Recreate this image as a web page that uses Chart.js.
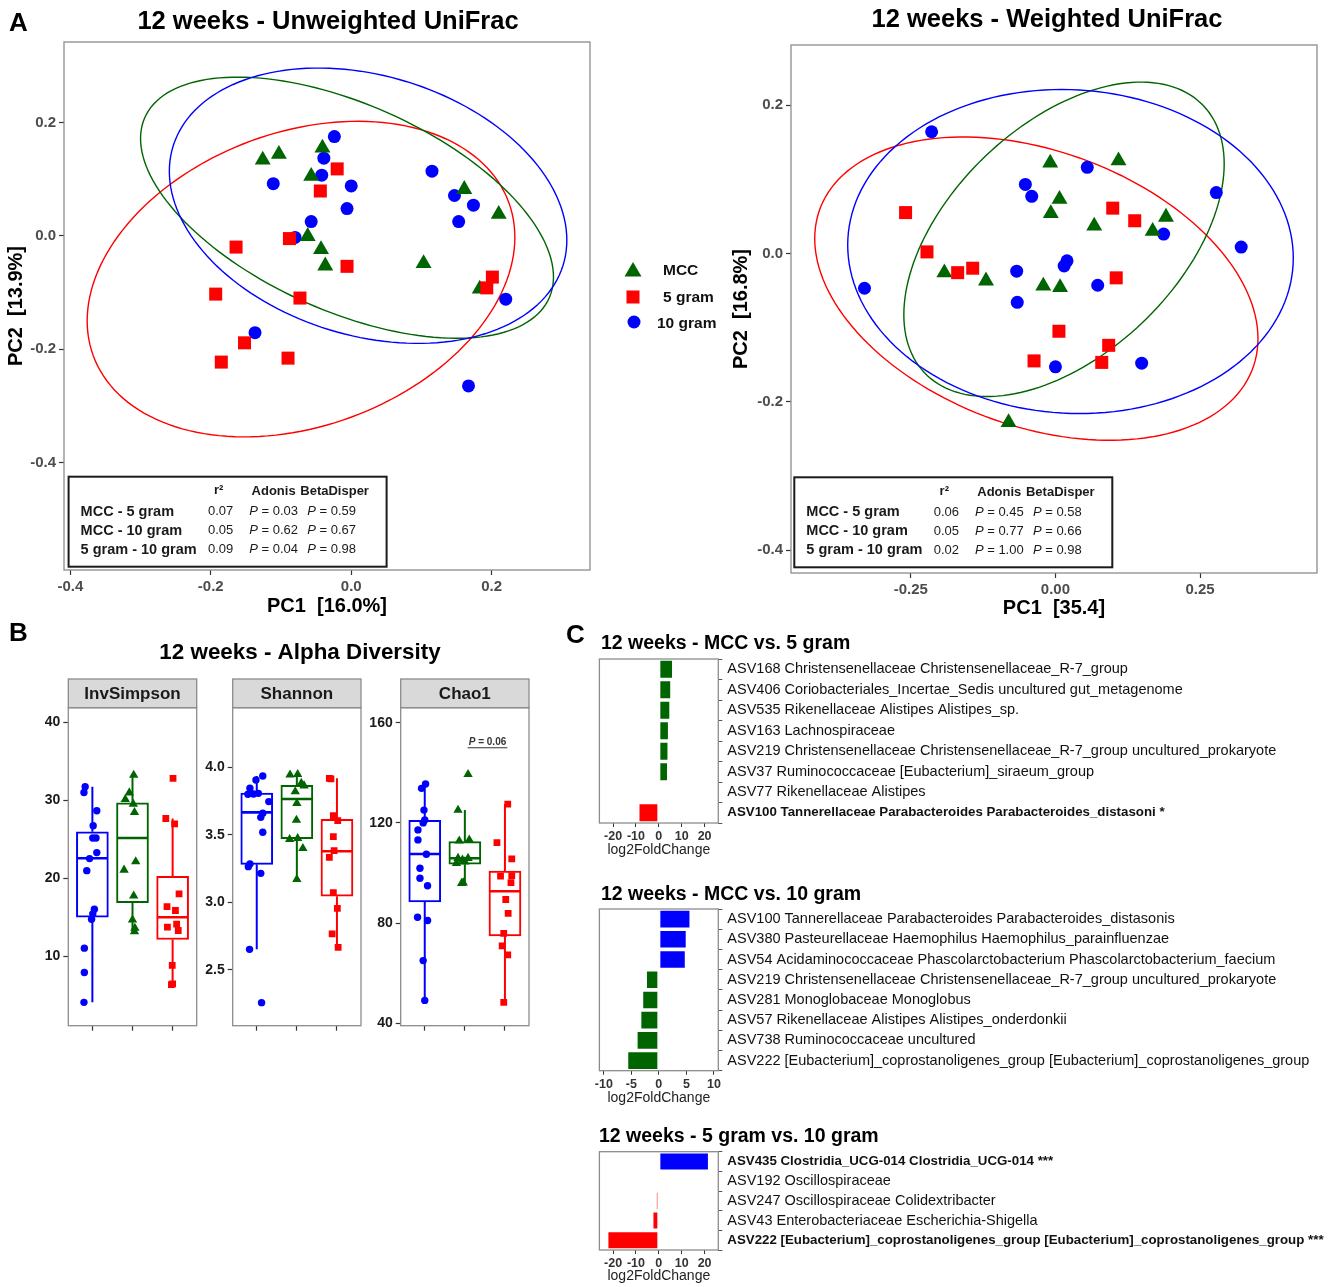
<!DOCTYPE html>
<html>
<head>
<meta charset="utf-8">
<script src="https://cdn.jsdelivr.net/npm/chart.js@4.4.1/dist/chart.umd.min.js"></script>
<style>
  body { margin: 0; background: #fff; }
  #wrap { position: relative; width: 1339px; height: 1287px; overflow: hidden; background: #fff; }
  canvas { position: absolute; }
</style>
</head>
<body>
<div id="wrap">
  <canvas id="a1" width="727" height="625" style="left:0px;top:0px"></canvas>
  <canvas id="a2" width="612" height="625" style="left:727px;top:0px"></canvas>
  <canvas id="b1" width="570" height="440" style="left:0px;top:610px"></canvas>
  <canvas id="b2" width="570" height="440" style="left:0px;top:610px"></canvas>
  <canvas id="b3" width="570" height="440" style="left:0px;top:610px"></canvas>
  <canvas id="c1" width="779" height="250" style="left:560px;top:610px"></canvas>
  <canvas id="c2" width="779" height="230" style="left:560px;top:880px"></canvas>
  <canvas id="c3" width="779" height="167" style="left:560px;top:1120px"></canvas>
</div>
<script>
Chart.defaults.font.family = '"Liberation Sans", Arial, Helvetica, sans-serif';
Chart.defaults.color = '#333';

const GREEN = '#006400', RED = '#FF0000', BLUE = '#0000FF';

// ---- A: PCoA, 12 weeks, unweighted UniFrac
const uwMccX = [-0.126, -0.103, -0.041, -0.057, -0.062, -0.043, -0.037, 0.103, 0.161, 0.210, 0.183];
const uwMccY = [0.134, 0.144, 0.155, 0.105, -0.001, -0.024, -0.053, -0.049, 0.082, 0.038, -0.094];
const uw5gX = [-0.020, -0.044, -0.088, -0.164, -0.006, 0.201, 0.193, -0.193, -0.073, -0.152, -0.185, -0.090];
const uw5gY = [0.118, 0.079, -0.005, -0.020, -0.054, -0.073, -0.092, -0.103, -0.110, -0.189, -0.223, -0.216];
const uw10gX = [-0.024, -0.039, -0.042, -0.111, 0.000, -0.006, -0.057, -0.080, 0.115, 0.147, 0.174, 0.153, 0.220, -0.137, 0.167];
const uw10gY = [0.175, 0.137, 0.107, 0.092, 0.088, 0.048, 0.025, -0.003, 0.114, 0.071, 0.054, 0.025, -0.112, -0.171, -0.265];
// ellipse: centre x, centre y, half width, half height, tilt (cos of phase)
const uwEllMcc = [-0.006, 0.0495, 0.294, 0.2305, -0.53];
const uwEll5g = [-0.0715, -0.0765, 0.3045, 0.2785, 0.265];
const uwEll10g = [0.024, 0.053, 0.283, 0.243, -0.25];

// ---- A: weighted UniFrac
const wMccX = [-0.009, 0.109, 0.007, -0.008, 0.067, 0.191, 0.168, -0.192, -0.120, -0.021, 0.008, -0.081];
const wMccY = [0.122, 0.125, 0.073, 0.054, 0.037, 0.049, 0.030, -0.026, -0.037, -0.044, -0.046, -0.228];
const w5gX = [-0.259, 0.099, 0.137, -0.222, -0.169, -0.143, 0.105, 0.006, 0.092, -0.037, 0.080];
const w5gY = [0.055, 0.061, 0.044, 0.002, -0.026, -0.020, -0.033, -0.105, -0.124, -0.145, -0.147];
const w10gX = [-0.214, 0.055, -0.052, -0.041, 0.278, 0.187, 0.321, 0.020, 0.015, -0.067, 0.073, -0.330, -0.066, 0.000, 0.149];
const w10gY = [0.164, 0.116, 0.093, 0.077, 0.082, 0.026, 0.0085, -0.010, -0.017, -0.024, -0.043, -0.047, -0.066, -0.153, -0.148];
const wEllMcc = [0.0148, 0.019, 0.2768, 0.212, 0.48];
const wEll5g = [-0.033, -0.0475, 0.383, 0.2045, -0.33];
const wEll10g = [0.026, 0.0025, 0.385, 0.2185, -0.04];

// ---- A: statistics tables
const pairNames = ['MCC - 5 gram', 'MCC - 10 gram', '5 gram - 10 gram'];
const uwR2 = ['0.07', '0.05', '0.09'];
const uwAdonis = ['0.03', '0.62', '0.04'];
const uwBeta = ['0.59', '0.67', '0.98'];
const wR2 = ['0.06', '0.05', '0.02'];
const wAdonis = ['0.45', '0.77', '1.00'];
const wBeta = ['0.58', '0.66', '0.98'];

// ---- B: alpha diversity (x: 1 = 10 gram, 2 = MCC, 3 = 5 gram)
// box stats: lower whisker, q1, median, q3, upper whisker
const inv10gBox = [4.14, 15.05, 22.6, 26.0, 31.77];
const invMccBox = [13.2, 16.9, 25.2, 29.7, 33.26];
const inv5gBox = [6.4, 12.2, 15.05, 20.3, 27.7];
const inv10g = [31.77, 31.04, 28.70, 26.78, 25.20, 25.20, 23.33, 22.56, 21.02, 16.08, 15.48, 14.80, 11.09, 7.97, 4.14];
const inv10gJit = [-0.18, -0.21, 0.11, 0.02, 0.01, 0.09, 0.11, -0.07, -0.14, 0.05, 0.01, -0.02, -0.20, -0.20, -0.21];
const invMcc = [33.26, 31.0, 30.15, 29.55, 28.49, 22.17, 21.1, 17.78, 14.71, 13.65, 13.2];
const invMccJit = [0.03, -0.08, -0.18, 0.02, 0.05, 0.08, -0.21, 0.03, 0.0, 0.06, 0.05];
const inv5g = [32.84, 27.7, 27.0, 18.04, 16.42, 15.91, 14.16, 13.77, 13.35, 8.87, 6.4, 6.5];
const inv5gJit = [0.01, -0.17, 0.05, 0.16, -0.14, 0.07, 0.10, -0.13, 0.14, -0.01, -0.03, 0.0];

const sha10gBox = [2.651, 3.282, 3.668, 3.812, 3.938];
const shaMccBox = [3.171, 3.473, 3.767, 3.869, 3.950];
const sha5gBox = [2.666, 3.045, 3.379, 3.616, 3.921];
const sha10g = [3.938, 3.908, 3.847, 3.809, 3.802, 3.804, 3.748, 3.661, 3.631, 3.520, 3.285, 3.265, 3.215, 2.651, 2.255];
const sha10gJit = [0.15, -0.02, -0.17, 0.04, -0.22, -0.08, 0.30, 0.15, 0.10, 0.15, -0.17, -0.21, 0.10, -0.18, 0.12];
const shaMcc = [3.946, 3.950, 3.884, 3.866, 3.822, 3.735, 3.611, 3.475, 3.468, 3.401, 3.171];
const shaMccJit = [-0.17, 0.02, 0.11, 0.18, -0.04, 0.0, -0.01, 0.02, -0.18, 0.15, 0.0];
const sha5g = [3.921, 3.916, 3.644, 3.606, 3.488, 3.384, 3.334, 3.072, 2.955, 2.765, 2.666];
const sha5gJit = [-0.19, -0.15, -0.09, 0.02, -0.09, -0.07, -0.19, -0.09, 0.01, -0.12, 0.03];

const chao10gBox = [49.1, 88.4, 107.6, 121.0, 135.5];
const chaoMccBox = [95.9, 103.5, 105.9, 112.5, 125.1];
const chao5gBox = [48.3, 74.9, 92.7, 100.8, 127.5];
const chao10g = [135.5, 133.8, 125.1, 121.2, 120.0, 117.2, 113.2, 107.5, 101.9, 97.9, 94.9, 82.3, 81.0, 65.0, 49.1];
const chao10gJit = [0.02, -0.08, -0.02, 0.0, -0.04, -0.17, -0.17, 0.04, -0.12, -0.12, 0.07, -0.18, 0.07, -0.04, 0.0];
const chaoMcc = [139.4, 125.1, 112.8, 113.2, 105.9, 105.9, 105.2, 103.9, 96.1, 95.9, 104.5];
const chaoMccJit = [0.08, -0.17, -0.14, 0.11, -0.17, 0.08, -0.06, -0.21, -0.04, -0.08, 0.0];
const chao5g = [127.5, 112.1, 105.6, 98.7, 98.9, 96.1, 89.4, 83.9, 75.9, 70.9, 67.3, 48.3];
const chao5gJit = [0.07, -0.20, 0.17, -0.11, 0.17, 0.15, 0.02, 0.08, -0.03, -0.07, 0.07, -0.03];
const chaoPval = 'P = 0.06';

// ---- C: differential abundance
const c1Labels = [
  'ASV168 Christensenellaceae Christensenellaceae_R-7_group',
  'ASV406 Coriobacteriales_Incertae_Sedis uncultured gut_metagenome',
  'ASV535 Rikenellaceae Alistipes Alistipes_sp.',
  'ASV163 Lachnospiraceae',
  'ASV219 Christensenellaceae Christensenellaceae_R-7_group uncultured_prokaryote',
  'ASV37 Ruminococcaceae [Eubacterium]_siraeum_group',
  'ASV77 Rikenellaceae Alistipes',
  'ASV100 Tannerellaceae Parabacteroides Parabacteroides_distasoni *'
];
const c1Values = [6.2, 5.4, 5.0, 4.4, 4.2, 4.0, -1.0, -8.9];
const c1Bold = [7];
const c2Labels = [
  'ASV100 Tannerellaceae Parabacteroides Parabacteroides_distasonis',
  'ASV380 Pasteurellaceae Haemophilus Haemophilus_parainfluenzae',
  'ASV54 Acidaminococcaceae Phascolarctobacterium Phascolarctobacterium_faecium',
  'ASV219 Christensenellaceae Christensenellaceae_R-7_group uncultured_prokaryote',
  'ASV281 Monoglobaceae Monoglobus',
  'ASV57 Rikenellaceae Alistipes Alistipes_onderdonkii',
  'ASV738 Ruminococcaceae uncultured',
  'ASV222 [Eubacterium]_coprostanoligenes_group [Eubacterium]_coprostanoligenes_group'
];
const c2Values = [5.74, 5.06, 4.89, -2.34, -3.02, -3.36, -4.04, -5.74];
const c2Bold = [];
const c3Labels = [
  'ASV435 Clostridia_UCG-014 Clostridia_UCG-014 ***',
  'ASV192 Oscillospiraceae',
  'ASV247 Oscillospiraceae Colidextribacter',
  'ASV43 Enterobacteriaceae Escherichia-Shigella',
  'ASV222 [Eubacterium]_coprostanoligenes_group [Eubacterium]_coprostanoligenes_group ***'
];
const c3Values = [21.9, -0.7, -1.3, -2.8, -22.5];
const c3Bold = [0, 4];
const ticks20 = [-20, -10, 0, 10, 20];
const ticks10 = [-10, -5, 0, 5, 10];

// ---------- helpers / plugins
const FONT = '"Liberation Sans", Arial, sans-serif';
const xy = (xs, ys) => xs.map((v, i) => ({x: v, y: ys[i]}));

function framePlugin(color, width) {
  return {
    id: 'frame',
    afterDatasetsDraw(chart) {
      const {ctx, chartArea: a} = chart;
      ctx.save();
      ctx.strokeStyle = color;
      ctx.lineWidth = width;
      ctx.strokeRect(a.left, a.top, a.right - a.left, a.bottom - a.top);
      ctx.restore();
    }
  };
}

function textPlugin(items) {
  return {
    id: 'texts',
    afterDraw(chart) {
      const ctx = chart.ctx;
      items.forEach(it => {
        ctx.save();
        ctx.font = it.font;
        ctx.fillStyle = it.color || '#000';
        ctx.textAlign = it.align || 'left';
        ctx.textBaseline = 'alphabetic';
        ctx.fillText(it.t, it.x, it.y);
        ctx.restore();
      });
    }
  };
}

function ellipsePlugin(list) {
  return {
    id: 'ellipses',
    beforeDatasetsDraw(chart) {
      const {ctx, scales: {x, y}} = chart;
      list.forEach(([e, color]) => {
        const [cx, cy, rx, ry, k] = e;
        const d = Math.acos(k);
        ctx.save();
        ctx.beginPath();
        ctx.strokeStyle = color;
        ctx.lineWidth = 1.4;
        for (let i = 0; i <= 160; i++) {
          const t = i / 160 * Math.PI * 2;
          const px = x.getPixelForValue(cx + rx * Math.cos(t));
          const py = y.getPixelForValue(cy + ry * Math.cos(t - d));
          if (i) ctx.lineTo(px, py); else ctx.moveTo(px, py);
        }
        ctx.closePath();
        ctx.stroke();
        ctx.restore();
      });
    }
  };
}

function tablePlugin(r2, adonis, beta, dx, dy) {
  return {
    id: 'statTable',
    afterDatasetsDraw(chart) {
      const {ctx, chartArea: a} = chart;
      const w = 318, h = 90;
      const L = a.left + dx, T = a.bottom - dy - h;
      ctx.save();
      ctx.fillStyle = '#fff';
      ctx.fillRect(L, T, w, h);
      ctx.strokeStyle = '#1a1a1a';
      ctx.lineWidth = 2;
      ctx.strokeRect(L, T, w, h);
      ctx.fillStyle = '#1a1a1a';
      ctx.textBaseline = 'middle';
      ctx.textAlign = 'center';
      ctx.font = 'bold 13px ' + FONT;
      ctx.fillText('r²', L + 150, T + 14);
      ctx.fillText('Adonis', L + 205, T + 15);
      ctx.fillText('BetaDisper', L + 266, T + 15);
      const pText = (val, cx, cy) => {
        ctx.font = 'italic 13px ' + FONT;
        const w1 = ctx.measureText('P').width;
        ctx.font = '13px ' + FONT;
        const rest = ' = ' + val;
        const w2 = ctx.measureText(rest).width;
        const x0 = cx - (w1 + w2) / 2;
        ctx.textAlign = 'left';
        ctx.font = 'italic 13px ' + FONT;
        ctx.fillText('P', x0, cy);
        ctx.font = '13px ' + FONT;
        ctx.fillText(rest, x0 + w1, cy);
      };
      pairNames.forEach((n, i) => {
        const cy = T + 35 + i * 19;
        ctx.textAlign = 'left';
        ctx.font = 'bold 14.5px ' + FONT;
        ctx.fillText(n, L + 12, cy);
        ctx.textAlign = 'center';
        ctx.font = '13px ' + FONT;
        ctx.fillText(r2[i], L + 152, cy);
        pText(adonis[i], L + 205, cy);
        pText(beta[i], L + 263, cy);
      });
      ctx.restore();
    }
  };
}

const legendPlugin = {
  id: 'groupLegend',
  afterDraw(chart) {
    const ctx = chart.ctx;
    ctx.save();
    ctx.fillStyle = GREEN;
    ctx.beginPath();
    ctx.moveTo(633, 262); ctx.lineTo(641.5, 276.5); ctx.lineTo(624.5, 276.5); ctx.closePath(); ctx.fill();
    ctx.fillStyle = RED;
    ctx.fillRect(626.5, 290.5, 13, 13);
    ctx.fillStyle = BLUE;
    ctx.beginPath(); ctx.arc(634, 322, 6.5, 0, Math.PI * 2); ctx.fill();
    ctx.fillStyle = '#111';
    ctx.font = 'bold 15.5px ' + FONT;
    ctx.textBaseline = 'alphabetic';
    ctx.fillText('MCC', 663, 275);
    ctx.fillText('5 gram', 663, 302);
    ctx.fillText('10 gram', 657, 328);
    ctx.restore();
  }
};

function fixedTicks(vals) {
  return s => { s.ticks = vals.map(v => ({value: v})); };
}

function pcoa(id, cfg) {
  return new Chart(document.getElementById(id), {
    type: 'scatter',
    data: {
      datasets: [
        {label: '5 gram', data: cfg.red, pointStyle: 'rect', pointRadius: 9.2, backgroundColor: RED, borderWidth: 0},
        {label: 'MCC', data: cfg.green, pointStyle: 'triangle', pointRadius: 9.2, backgroundColor: GREEN, borderWidth: 0},
        {label: '10 gram', data: cfg.blue, pointStyle: 'circle', pointRadius: 6.5, backgroundColor: BLUE, borderWidth: 0}
      ]
    },
    options: {
      responsive: false,
      animation: false,
      events: [],
      layout: {padding: cfg.pad},
      plugins: {legend: {display: false}, tooltip: {enabled: false}},
      scales: {
        x: {
          type: 'linear', min: cfg.xmin, max: cfg.xmax,
          afterBuildTicks: fixedTicks(cfg.xticks),
          afterFit: s => { s.height = cfg.xh; },
          grid: {drawOnChartArea: false, tickLength: 5, tickColor: '#333', tickWidth: 1.2},
          border: {display: false},
          ticks: {font: {size: 15, weight: 'bold'}, color: '#4D4D4D', padding: 3, maxRotation: 0,
                  callback: v => Number(v).toFixed(cfg.xdec)},
          title: {display: true, text: cfg.xtitle, color: '#000', font: {size: 20, weight: 'bold'},
                  padding: {top: 0, bottom: cfg.xtpad}}
        },
        y: {
          type: 'linear', min: cfg.ymin, max: cfg.ymax,
          afterBuildTicks: fixedTicks([-0.4, -0.2, 0, 0.2]),
          afterFit: s => { s.width = 64; },
          grid: {drawOnChartArea: false, tickLength: 5, tickColor: '#333', tickWidth: 1.2},
          border: {display: false},
          ticks: {font: {size: 15, weight: 'bold'}, color: '#4D4D4D', padding: 3,
                  callback: v => Number(v).toFixed(1)},
          title: {display: true, text: cfg.ytitle, color: '#000', font: {size: 20, weight: 'bold'},
                  padding: {top: cfg.ytpad, bottom: 0}}
        }
      }
    },
    plugins: cfg.plugins
  });
}

pcoa('a1', {
  red: xy(uw5gX, uw5gY), green: xy(uwMccX, uwMccY), blue: xy(uw10gX, uw10gY),
  pad: {left: 0, top: 42, right: 137, bottom: 0},
  xmin: -0.409, xmax: 0.340, ymin: -0.590, ymax: 0.342,
  xticks: [-0.4, -0.2, 0, 0.2], xdec: 1, xh: 55, xtpad: 7, ytpad: 4,
  xtitle: 'PC1  [16.0%]', ytitle: 'PC2  [13.9%]',
  plugins: [
    ellipsePlugin([[uwEll5g, RED], [uwEllMcc, GREEN], [uwEll10g, BLUE]]),
    framePlugin('#8C8C8C', 1.3),
    tablePlugin(uwR2, uwAdonis, uwBeta, 4.6, 3.3),
    legendPlugin,
    textPlugin([
      {t: 'A', x: 9, y: 31, font: 'bold 26px ' + FONT},
      {t: '12 weeks - Unweighted UniFrac', x: 328, y: 29, font: 'bold 25.5px ' + FONT, align: 'center'}
    ])
  ]
});

pcoa('a2', {
  red: xy(w5gX, w5gY), green: xy(wMccX, wMccY), blue: xy(w10gX, w10gY),
  pad: {left: 0, top: 45, right: 22, bottom: 0},
  xmin: -0.457, xmax: 0.452, ymin: -0.431, ymax: 0.281,
  xticks: [-0.25, 0, 0.25], xdec: 2, xh: 52, xtpad: 5, ytpad: 2,
  xtitle: 'PC1  [35.4]', ytitle: 'PC2  [16.8%]',
  plugins: [
    ellipsePlugin([[wEll5g, RED], [wEllMcc, GREEN], [wEll10g, BLUE]]),
    framePlugin('#8C8C8C', 1.3),
    tablePlugin(wR2, wAdonis, wBeta, 3.3, 5.7),
    textPlugin([
      {t: '12 weeks - Weighted UniFrac', x: 320, y: 27, font: 'bold 25.5px ' + FONT, align: 'center'}
    ])
  ]
});

// ---------- B facets
function stripPlugin(name) {
  return {
    id: 'strip',
    afterDraw(chart) {
      const {ctx, chartArea: a} = chart;
      const h = 28.7;
      ctx.save();
      ctx.fillStyle = '#D9D9D9';
      ctx.fillRect(a.left, a.top - h, a.right - a.left, h);
      ctx.strokeStyle = '#8C8C8C';
      ctx.lineWidth = 1.3;
      ctx.strokeRect(a.left, a.top - h, a.right - a.left, h);
      ctx.fillStyle = '#1a1a1a';
      ctx.font = 'bold 17px ' + FONT;
      ctx.textAlign = 'center';
      ctx.textBaseline = 'middle';
      ctx.fillText(name, (a.left + a.right) / 2, a.top - h / 2 + 1);
      ctx.restore();
    }
  };
}

const pvalPlugin = {
  id: 'pval',
  afterDatasetsDraw(chart) {
    const {ctx, scales: {x, y}} = chart;
    const yy = y.getPixelForValue(150);
    ctx.save();
    ctx.strokeStyle = '#333';
    ctx.lineWidth = 1;
    ctx.beginPath();
    ctx.moveTo(x.getPixelForValue(2.07), yy);
    ctx.lineTo(x.getPixelForValue(3.06), yy);
    ctx.stroke();
    ctx.fillStyle = '#333';
    ctx.textBaseline = 'alphabetic';
    const cx = x.getPixelForValue(2.565);
    ctx.font = 'italic bold 10px ' + FONT;
    const w1 = ctx.measureText('P').width;
    ctx.font = 'bold 10px ' + FONT;
    const rest = chaoPval.slice(1);
    const w2 = ctx.measureText(rest).width;
    const x0 = cx - (w1 + w2) / 2;
    ctx.font = 'italic bold 10px ' + FONT;
    ctx.fillText('P', x0, yy - 3);
    ctx.font = 'bold 10px ' + FONT;
    ctx.fillText(rest, x0 + w1, yy - 3);
    ctx.restore();
  }
};

function facet(id, f) {
  const cols = [BLUE, GREEN, RED];
  const styles = [['circle', 3.7], ['triangle', 5.4], ['rect', 4.8]];
  const ptSets = f.pts.map(([vals, jit], g) => ({
    type: 'scatter', order: 0,
    data: vals.map((v, i) => ({x: g + 1 + jit[i], y: v})),
    pointStyle: styles[g][0], pointRadius: styles[g][1],
    backgroundColor: cols[g], borderWidth: 0
  }));
  const whiskers = f.stats.map((s, g) => ({
    type: 'line', order: 2, spanGaps: false,
    data: [{x: g + 1, y: s[0]}, {x: g + 1, y: s[1]}, {x: g + 1, y: null}, {x: g + 1, y: s[3]}, {x: g + 1, y: s[4]}],
    borderColor: cols[g], borderWidth: 2, pointRadius: 0
  }));
  const medians = {
    type: 'scatter', order: 1,
    data: f.stats.map((s, g) => ({x: g + 1, y: s[2]})),
    pointStyle: 'line', pointRadius: 15.5, pointBorderWidth: 2.6, pointBorderColor: cols, backgroundColor: cols
  };
  const boxes = {
    type: 'bar', order: 3,
    data: f.stats.map((s, g) => ({x: g + 1, y: [s[1], s[3]]})),
    backgroundColor: '#fff', borderColor: cols, borderWidth: 2, borderSkipped: false, barThickness: 32
  };
  return new Chart(document.getElementById(id), {
    type: 'bar',
    data: {datasets: [...ptSets, medians, ...whiskers, boxes]},
    options: {
      responsive: false,
      animation: false,
      events: [],
      layout: {padding: {left: f.padL, right: f.padR, top: 97.7, bottom: 14.3}},
      plugins: {legend: {display: false}, tooltip: {enabled: false}},
      scales: {
        x: {
          type: 'linear', min: 0.4, max: 3.6, offset: false,
          afterBuildTicks: fixedTicks([1, 2, 3]),
          afterFit: s => { s.height = 10; },
          grid: {drawOnChartArea: false, offset: false, tickLength: 5, tickColor: '#333', tickWidth: 1.2},
          border: {display: false},
          ticks: {callback: () => ''}
        },
        y: {
          type: 'linear', min: f.min, max: f.max,
          afterBuildTicks: fixedTicks(f.ticks),
          afterFit: s => { s.width = 40; },
          grid: {drawOnChartArea: false, tickLength: 5, tickColor: '#333', tickWidth: 1.2},
          border: {display: false},
          ticks: {font: {size: 14, weight: 'bold'}, color: '#1a1a1a', padding: 3,
                  callback: v => Number(v).toFixed(f.dec)}
        }
      }
    },
    plugins: [framePlugin('#8C8C8C', 1.3), stripPlugin(f.name)].concat(f.extra || [])
  });
}

facet('b1', {
  name: 'InvSimpson', min: 1.15, max: 41.9, ticks: [10, 20, 30, 40], dec: 0, padL: 28.3, padR: 373.3,
  stats: [inv10gBox, invMccBox, inv5gBox],
  pts: [[inv10g, inv10gJit], [invMcc, invMccJit], [inv5g, inv5gJit]],
  extra: [textPlugin([{t: 'B', x: 9, y: 31, font: 'bold 26px ' + FONT}])]
});
facet('b2', {
  name: 'Shannon', min: 2.084, max: 4.445, ticks: [2.5, 3.0, 3.5, 4.0], dec: 1, padL: 192.7, padR: 209,
  stats: [sha10gBox, shaMccBox, sha5gBox],
  pts: [[sha10g, sha10gJit], [shaMcc, shaMccJit], [sha5g, sha5gJit]],
  extra: [textPlugin([{t: '12 weeks - Alpha Diversity', x: 300, y: 49, font: 'bold 22.4px ' + FONT, align: 'center'}])]
});
facet('b3', {
  name: 'Chao1', min: 39.0, max: 166, ticks: [40, 80, 120, 160], dec: 0, padL: 360.7, padR: 41,
  stats: [chao10gBox, chaoMccBox, chao5gBox],
  pts: [[chao10g, chao10gJit], [chaoMcc, chaoMccJit], [chao5g, chao5gJit]],
  extra: [pvalPlugin]
});

// ---------- C bars
function bars(id, cfg) {
  return new Chart(document.getElementById(id), {
    type: 'bar',
    data: {
      labels: cfg.labels,
      datasets: [{
        data: cfg.values,
        backgroundColor: cfg.values.map(v => v >= 0 ? cfg.pos : cfg.neg),
        borderColor: '#fff', borderWidth: 1, borderSkipped: false,
        barPercentage: 0.92, categoryPercentage: 1.0
      }]
    },
    options: {
      indexAxis: 'y',
      responsive: false,
      animation: false,
      events: [],
      layout: {padding: {left: 39.4, right: 0, top: cfg.top, bottom: 0}},
      plugins: {legend: {display: false}, tooltip: {enabled: false}},
      scales: {
        x: {
          type: 'linear', min: -cfg.lim, max: cfg.lim,
          afterBuildTicks: fixedTicks(cfg.ticks),
          afterFit: s => { s.height = cfg.xh; },
          grid: {drawOnChartArea: false, tickLength: 4, tickColor: '#333'},
          border: {display: false},
          ticks: {font: {size: 12.5, weight: 'bold'}, color: '#333', padding: 2, maxRotation: 0},
          title: {display: true, text: 'log2FoldChange', color: '#222', font: {size: 14},
                  padding: {top: 0, bottom: cfg.xtpad}}
        },
        y: {
          position: 'right',
          afterFit: s => { s.width = 620.7; },
          grid: {drawOnChartArea: false, tickLength: 4, tickColor: '#555'},
          border: {display: false},
          ticks: {
            autoSkip: false, padding: 5, color: '#111',
            font: ctx => cfg.bold.includes(ctx.index) ? {size: 13.3, weight: 'bold'} : {size: 14.5, weight: 'normal'}
          }
        }
      }
    },
    plugins: [framePlugin('#8C8C8C', 1.3), textPlugin(cfg.texts)]
  });
}

bars('c1', {
  labels: c1Labels, values: c1Values, bold: c1Bold, pos: GREEN, neg: RED,
  lim: 26, ticks: ticks20, top: 49, xh: 37, xtpad: 1.6,
  texts: [
    {t: 'C', x: 6, y: 33, font: 'bold 26px ' + FONT},
    {t: '12 weeks - MCC vs. 5 gram', x: 41, y: 39, font: 'bold 19.5px ' + FONT}
  ]
});
bars('c2', {
  labels: c2Labels, values: c2Values, bold: c2Bold, pos: BLUE, neg: GREEN,
  lim: 10.8, ticks: ticks10, top: 29, xh: 39.3, xtpad: 3.6,
  texts: [{t: '12 weeks - MCC vs. 10 gram', x: 41, y: 20, font: 'bold 19.5px ' + FONT}]
});
bars('c3', {
  labels: c3Labels, values: c3Values, bold: c3Bold, pos: BLUE, neg: RED,
  lim: 26, ticks: ticks20, top: 31.7, xh: 37, xtpad: 2.6,
  texts: [{t: '12 weeks - 5 gram vs. 10 gram', x: 39, y: 22, font: 'bold 19.5px ' + FONT}]
});
</script>
</body>
</html>
